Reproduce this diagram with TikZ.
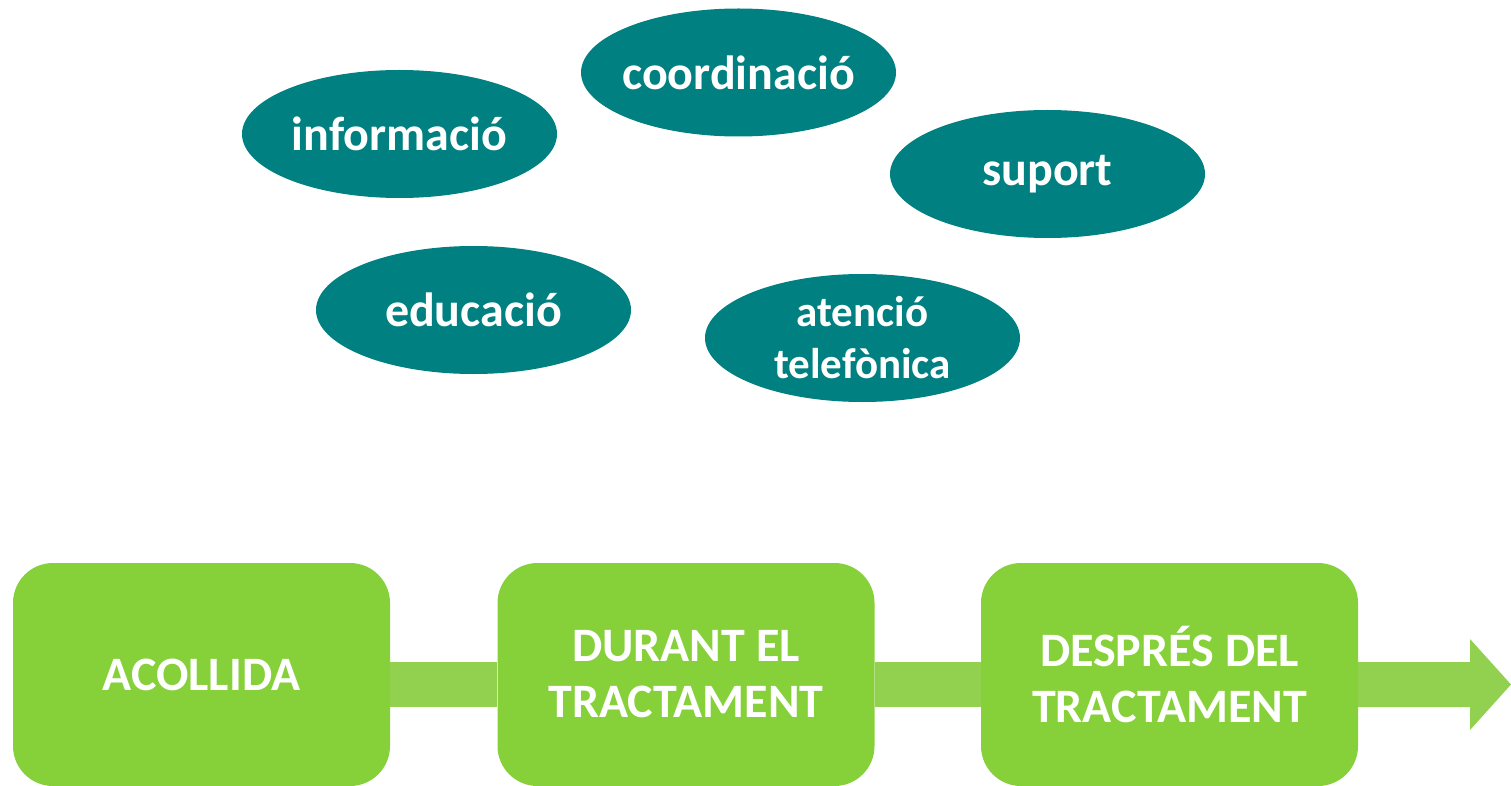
\documentclass[tikz,border=0pt]{standalone}
\usepackage{fontspec}
\setmainfont{Carlito}
\usetikzlibrary{shapes.geometric}
\definecolor{teal1}{RGB}{0,128,128}
\definecolor{boxg}{RGB}{134,208,58}
\definecolor{barg}{RGB}{146,208,80}
\tikzset{
  bubble/.style={ellipse, fill=teal1, minimum width=315, minimum height=128, inner sep=0pt,
    text=white, font=\fontsize{48}{54}\selectfont\bfseries, align=center},
  stage/.style={rectangle, rounded corners=40, fill=boxg, minimum width=377, minimum height=223,
    inner sep=0pt, text=white, font=\fontsize{48}{56}\selectfont\bfseries, align=center},
  barfill/.style={fill=barg}
}
\begin{document}
\begin{tikzpicture}[x=1pt,y=-1pt]
\useasboundingbox (0,0) rectangle (1511,786);
% bubbles
\node[bubble] (info) at (399.5,134) {\makebox[0pt]{informació}};
\node[bubble] (coord) at (738.5,72.5) {\makebox[0pt]{coordinació}};
\node[bubble] (sup) at (1047.5,174) {\makebox[0pt]{suport}};
\node[bubble] (edu) at (473.5,310) {\makebox[0pt]{educació}};
\node[bubble, font=\fontsize{43}{52}\selectfont\bfseries] (tel) at (862.5,338) {atenció\\telefònica};
% stages
\coordinate (tip) at (1511,684.5);
\node[stage] (s1) at (201.5,674.5) {ACOLLIDA};
\node[stage] (s2) at (686,674.5) {DURANT EL\\TRACTAMENT};
\node[stage] (s3) at (1169.5,674.5) {DESPRÉS DEL\\TRACTAMENT};
\fill[barfill] (s1.east |- 0,662) rectangle (s2.west |- 0,707);
\fill[barfill] (s2.east |- 0,662) rectangle (s3.west |- 0,707);
\fill[barfill] (s3.east |- 0,662) -- (1470,662) -- (1470,639) -- (tip) -- (1470,730) -- (1470,707) -- (s3.east |- 0,707) -- cycle;
\end{tikzpicture}
\end{document}
